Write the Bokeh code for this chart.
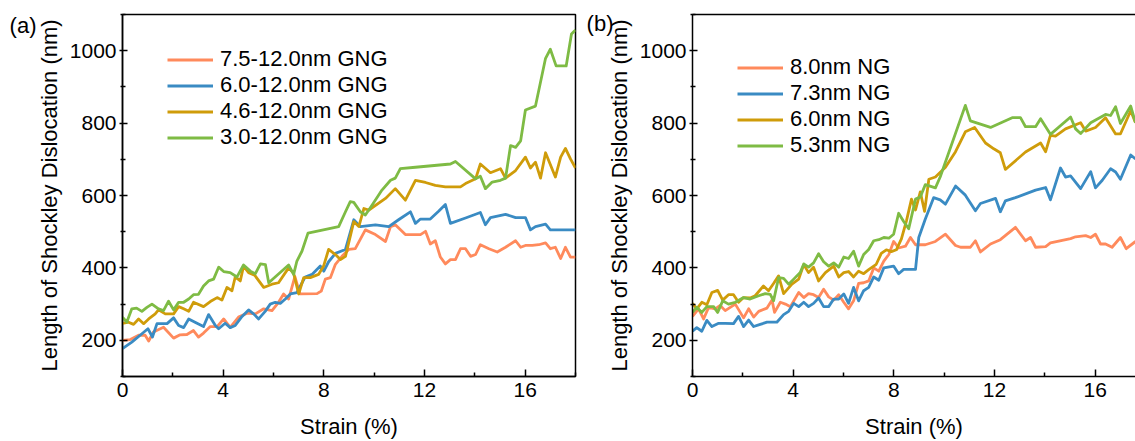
from bokeh.plotting import figure
from bokeh.layouts import row
from bokeh.models import (Range1d, FixedTicker, Legend, LegendItem, LinearAxis)
from bokeh.embed import file_html
from bokeh.resources import INLINE

# ---------------- data : panel (a) GNG ----------------
a_labels = ["7.5-12.0nm GNG", "6.0-12.0nm GNG", "4.6-12.0nm GNG", "3.0-12.0nm GNG"]

a1_x = [0.00, 0.31, 0.64, 0.90, 1.04, 1.23, 1.63, 2.03, 2.29, 2.56, 2.82, 3.02, 3.22, 3.49, 3.76, 4.02,
        4.28, 4.61, 4.95, 5.28, 5.61, 5.94, 6.20, 6.40, 6.60, 6.85, 7.05, 7.73, 7.90, 8.06, 8.26, 8.46,
        8.72, 8.99, 9.25, 9.65, 10.05, 10.45, 10.65, 10.84, 11.24, 11.84, 12.04, 12.23, 12.43, 12.63,
        12.83, 13.03, 13.23, 13.43, 13.63, 13.83, 14.03, 14.22, 14.56, 14.89, 15.22, 15.62, 15.82,
        16.01, 16.28, 16.54, 16.81, 17.00, 17.20, 17.41, 17.60, 17.80, 18.00]
a1_y = [200, 202, 214, 214, 198, 223, 236, 206, 215, 216, 227, 209, 220, 238, 238, 259,
        236, 264, 275, 273, 287, 282, 305, 328, 314, 376, 328, 329, 336, 369, 373, 410,
        432, 451, 453, 505, 492, 473, 514, 519, 492, 492, 501, 466, 475, 430,
        411, 423, 423, 453, 453, 432, 437, 464, 453, 444, 457, 475, 457,
        462, 462, 464, 469, 453, 457, 426, 457, 430, 430]

a2_x = [0.00, 0.37, 0.70, 1.01, 1.19, 1.37, 1.77, 2.03, 2.23, 2.43, 2.63, 2.96, 3.22, 3.42, 3.69, 3.82,
        4.08, 4.28, 4.48, 4.75, 5.01, 5.21, 5.41, 5.67, 5.87, 6.07, 6.27, 6.47, 6.67, 6.93, 7.26, 7.53,
        7.86, 8.00, 8.19, 8.46, 8.86, 9.19, 9.45, 10.05, 10.58, 10.97, 11.44, 11.64, 11.84, 12.23,
        12.57, 12.83, 13.03, 13.63, 14.22, 14.42, 14.62, 15.22, 15.62, 16.01, 16.21, 16.41, 16.81,
        17.00, 18.00]
a2_y = [177, 195, 214, 232, 209, 246, 246, 262, 241, 235, 259, 247, 238, 271, 241, 232,
        247, 235, 241, 266, 284, 273, 259, 280, 300, 305, 302, 314, 328, 332, 375, 382,
        405, 391, 417, 440, 451, 533, 514, 519, 514, 533, 555, 523, 535, 535,
        557, 575, 523, 538, 553, 519, 539, 548, 539, 539, 505, 514, 521,
        505, 505]

a3_x = [0.00, 0.24, 0.44, 0.64, 0.84, 1.04, 1.30, 1.43, 1.70, 2.03, 2.23, 2.43, 2.63, 2.82, 3.22, 3.49,
        3.76, 3.95, 4.15, 4.35, 4.48, 4.68, 4.81, 5.01, 5.25, 5.61, 5.94, 6.20, 6.60, 6.80, 7.00, 7.20,
        7.46, 7.79, 7.99, 8.19, 8.46, 8.66, 8.86, 9.19, 9.39, 9.59, 9.79, 10.45, 10.84, 11.24, 11.64,
        12.04, 12.43, 12.83, 13.43, 13.63, 14.03, 14.22, 14.62, 15.02, 15.22, 15.62, 16.01, 16.21,
        16.41, 16.61, 16.81, 17.20, 17.41, 17.60, 17.80, 18.00]
a3_y = [247, 250, 244, 259, 246, 259, 273, 284, 273, 273, 293, 287, 280, 305, 293, 307,
        318, 311, 346, 337, 375, 364, 405, 387, 380, 346, 355, 359, 400, 385, 328, 373,
        373, 382, 405, 451, 437, 423, 432, 528, 514, 564, 560, 592, 619, 587, 642,
        636, 628, 624, 624, 633, 646, 687, 663, 674, 648, 669, 706, 676,
        692, 648, 718, 651, 706, 730, 701, 676]

a4_x = [0.00, 0.17, 0.37, 0.56, 0.77, 0.97, 1.17, 1.43, 1.63, 1.83, 2.03, 2.23, 2.43, 2.63, 2.82, 3.02,
        3.22, 3.42, 3.62, 3.82, 4.02, 4.28, 4.55, 4.81, 5.08, 5.28, 5.48, 5.68, 5.81, 6.60, 6.80, 6.93,
        7.13, 7.37, 8.59, 8.86, 9.05, 9.19, 9.45, 9.65, 9.92, 10.31, 10.65, 10.84, 11.04, 11.64,
        13.03, 13.23, 14.03, 14.22, 14.42, 14.69, 15.02, 15.22, 15.42, 15.62, 15.82, 16.01, 16.41,
        16.81, 17.00, 17.23, 17.63, 17.84, 18.00]
a4_y = [264, 250, 287, 289, 280, 291, 300, 287, 282, 308, 284, 305, 305, 314, 326, 327,
        350, 364, 369, 402, 390, 387, 375, 408, 391, 384, 411, 409, 359, 408, 382, 419,
        446, 496, 514, 555, 583, 581, 555, 546, 574, 615, 642, 648, 674, 678,
        687, 694, 646, 653, 619, 637, 642, 648, 738, 733, 751, 836, 847,
        979, 1004, 958, 958, 1046, 1057]

# ---------------- data : panel (b) NG ----------------
b_labels = ["8.0nm NG", "7.3nm NG", "6.0nm NG", "5.3nm NG"]

b1_x = [0.00, 0.24, 0.44, 0.64, 0.90, 1.10, 1.30, 1.70, 2.03, 2.23, 2.43, 2.63, 2.96, 3.16, 3.26, 3.49,
        3.69, 3.89, 4.22, 4.42, 4.61, 4.81, 5.01, 5.21, 5.41, 5.61, 5.81, 6.01, 6.20, 6.40, 6.60, 6.80,
        7.00, 7.20, 7.40, 7.60, 7.80, 7.99, 8.19, 8.46, 8.66, 8.86, 9.25, 9.65, 10.05, 10.45, 10.65,
        11.04, 11.24, 11.44, 11.84, 12.23, 12.83, 13.23, 13.43, 13.63, 14.03, 14.22, 15.02, 15.22,
        15.62, 15.82, 16.01, 16.21, 16.41, 16.67, 17.00, 17.23, 17.60]
b1_y = [266, 287, 259, 291, 287, 296, 282, 300, 262, 287, 264, 280, 289, 311, 277, 305,
        300, 293, 332, 318, 329, 326, 318, 341, 320, 311, 326, 305, 287, 309, 357, 359,
        364, 400, 391, 419, 437, 473, 455, 460, 484, 464, 464, 473, 493, 462, 457,
        457, 475, 444, 466, 478, 512, 475, 484, 457, 459, 469, 481, 486,
        489, 484, 493, 466, 466, 457, 484, 453, 473]

b2_x = [0.00, 0.17, 0.37, 0.57, 0.77, 1.04, 1.30, 1.63, 1.83, 2.03, 2.23, 2.43, 2.69, 2.96, 3.35, 3.62,
        3.82, 4.02, 4.22, 4.42, 4.61, 4.81, 5.01, 5.21, 5.41, 5.61, 5.81, 6.01, 6.20, 6.40, 6.60, 6.80,
        7.00, 7.20, 7.40, 7.60, 7.99, 8.19, 8.39, 8.86, 8.99, 9.25, 9.58, 9.84, 10.05, 10.45, 10.84,
        11.24, 11.44, 12.04, 12.23, 12.43, 12.83, 13.63, 14.03, 14.22, 14.62, 14.82, 15.02, 15.42,
        15.82, 16.01, 16.28, 16.61, 16.81, 17.00, 17.41, 17.60]
b2_y = [225, 235, 225, 255, 238, 247, 247, 246, 266, 238, 256, 238, 244, 250, 250, 271,
        280, 302, 293, 305, 293, 302, 317, 293, 293, 314, 314, 328, 302, 346, 309, 337,
        346, 375, 366, 400, 405, 384, 396, 396, 484, 535, 594, 588, 576, 626, 601,
        558, 578, 592, 555, 585, 594, 615, 622, 588, 676, 651, 654, 619,
        666, 621, 642, 674, 665, 645, 712, 701]

b3_x = [0.00, 0.17, 0.37, 0.57, 0.77, 1.00, 1.20, 1.43, 1.63, 1.83, 2.03, 2.29, 2.49, 2.82, 3.02, 3.22,
        3.42, 3.62, 3.95, 4.22, 4.42, 4.61, 4.81, 5.01, 5.28, 5.61, 5.81, 6.01, 6.20, 6.40, 6.60, 6.80,
        7.00, 7.30, 7.50, 7.70, 7.90, 8.10, 8.30, 8.50, 8.70, 8.86, 9.05, 9.22, 9.39, 9.65, 10.05,
        10.45, 10.84, 11.21, 11.64, 11.97, 12.23, 12.43, 13.23, 13.83, 14.03, 14.22, 14.42, 14.82,
        15.42, 15.62, 16.01, 16.41, 16.81, 17.00, 17.41, 17.60]
b3_y = [302, 287, 305, 298, 332, 338, 311, 326, 326, 305, 318, 317, 323, 350, 337, 357,
        378, 329, 355, 369, 409, 387, 402, 364, 387, 405, 375, 387, 390, 375, 391, 384,
        395, 410, 440, 450, 445, 450, 480, 530, 590, 560, 610, 556, 645, 651, 678,
        721, 776, 788, 745, 729, 718, 672, 720, 745, 721, 766, 764, 784,
        801, 778, 788, 815, 770, 770, 834, 801]

b4_x = [0.00, 0.17, 0.37, 0.57, 0.84, 1.00, 1.20, 1.43, 1.70, 2.03, 2.29, 2.63, 2.89, 3.09, 3.22, 3.42,
        3.62, 3.82, 4.02, 4.28, 4.42, 4.61, 4.81, 5.01, 5.21, 5.41, 5.61, 5.81, 6.01, 6.20, 6.40, 6.60,
        6.80, 7.00, 7.20, 7.40, 7.60, 7.80, 7.99, 8.19, 8.39, 8.59, 8.86, 9.05, 9.25, 9.65, 9.84,
        10.84, 11.04, 11.84, 12.70, 13.03, 13.23, 13.63, 13.83, 14.22, 15.02, 15.22, 15.42, 15.82,
        16.41, 16.61, 16.81, 17.00, 17.41, 17.60]
b4_y = [277, 291, 277, 293, 293, 277, 309, 300, 305, 318, 314, 323, 329, 327, 309, 373,
        371, 355, 369, 387, 411, 402, 414, 439, 417, 405, 414, 402, 430, 426, 446, 405,
        437, 451, 475, 478, 484, 482, 493, 551, 528, 508, 590, 596, 630, 621, 651,
        849, 806, 788, 815, 815, 790, 790, 812, 769, 817, 784, 771, 801,
        824, 821, 845, 799, 847, 801]

x_major = [0, 4, 8, 12, 16]
x_minor = [2, 6, 10, 14, 18]
y_major = [200, 400, 600, 800, 1000]
y_minor = [100, 300, 500, 700, 900, 1100]

colors = ["#FF8A5C", "#3A8BC3", "#CF9C0A", "#7EBB44"]
FONT = "Liberation Sans"


def style(p, x_end):
    p.x_range = Range1d(0, x_end)
    p.y_range = Range1d(100, 1100)
    p.xgrid.visible = False
    p.ygrid.visible = False
    p.background_fill_color = "white"
    p.border_fill_color = "white"
    xa = p.xaxis[0]
    ya = p.yaxis[0]
    xa.ticker = FixedTicker(ticks=x_major, minor_ticks=x_minor)
    ya.ticker = FixedTicker(ticks=y_major, minor_ticks=y_minor)
    for ax in (xa, ya):
        ax.axis_line_color = "black"
        ax.axis_line_width = 1.5
        ax.major_tick_line_color = "black"
        ax.major_tick_line_width = 1.5
        ax.minor_tick_line_color = "black"
        ax.minor_tick_line_width = 1.5
        ax.major_label_text_font = FONT
        ax.major_label_text_font_size = "21px"
        ax.major_label_text_color = "black"
        ax.axis_label_text_font = FONT
        ax.axis_label_text_font_size = "22px"
        ax.axis_label_text_font_style = "normal"
        ax.axis_label_text_color = "black"
    xa.major_tick_in = 7
    xa.major_tick_out = 0
    xa.minor_tick_in = 4
    xa.minor_tick_out = 0
    xa.major_label_standoff = 6
    xa.axis_label_standoff = 14
    ya.major_tick_in = 5
    ya.major_tick_out = 3
    ya.minor_tick_in = 3
    ya.minor_tick_out = 2
    ya.major_label_standoff = 3
    ya.axis_label_standoff = 5
    xa.axis_label = "Strain (%)"
    ya.axis_label = "Length of Shockley Dislocation (nm)"


def make(series, labels, width, border_left, border_right, x_end, leg_loc, tag, tag_y, tag_standoff):
    p = figure(width=width, height=441, output_backend="svg", toolbar_location=None,
               min_border_left=border_left, min_border_right=border_right,
               min_border_top=14, min_border_bottom=62)
    style(p, x_end)
    items = []
    for (xs, ys), c, lab in zip(series, colors, labels):
        r = p.line(xs, ys, line_color=c, line_width=2.8, line_join="round")
        items.append(LegendItem(label=lab, renderers=[r]))
    leg = Legend(items=items, location=leg_loc, border_line_color=None,
                 background_fill_alpha=0, padding=0, margin=0, spacing=0,
                 glyph_width=46, glyph_height=25, label_height=25, label_standoff=7,
                 label_text_font=FONT, label_text_font_size="22px", label_text_color="black")
    p.add_layout(leg, "center")
    # panel tag "(a)" / "(b)" as the only label of an outer, line-less left axis
    tag_axis = LinearAxis(ticker=FixedTicker(ticks=[tag_y], minor_ticks=[]),
                          major_label_overrides={tag_y: tag},
                          axis_line_color=None, major_tick_line_color=None,
                          minor_tick_line_color=None, major_tick_in=0, major_tick_out=0,
                          minor_tick_in=0, minor_tick_out=0, major_label_standoff=tag_standoff,
                          major_label_text_font=FONT, major_label_text_font_size="22px",
                          major_label_text_color="black")
    p.add_layout(tag_axis, "left")
    return p


p1 = make([(a1_x, a1_y), (a2_x, a2_y), (a3_x, a3_y), (a4_x, a4_y)], a_labels,
          580, 122, 5, 18, (45, 226), "(a)", 1069, -3)
p1.outline_line_color = "black"
p1.outline_line_width = 1.5
p1.outline_line_alpha = 1

p2 = make([(b1_x, b1_y), (b2_x, b2_y), (b3_x, b3_y), (b4_x, b4_y)], b_labels,
          555, 112, 0, 17.6, (45, 218), "(b)", 1074, -10)
p2.outline_line_color = None
top = LinearAxis(ticker=FixedTicker(ticks=[]), major_tick_in=0, major_tick_out=0,
                 minor_tick_in=0, minor_tick_out=0, major_label_text_font_size="0px",
                 axis_line_color="black", axis_line_width=1.5)
p2.add_layout(top, "above")

layout = row(p1, p2)
open("out.html", "w").write(file_html(layout, INLINE))
